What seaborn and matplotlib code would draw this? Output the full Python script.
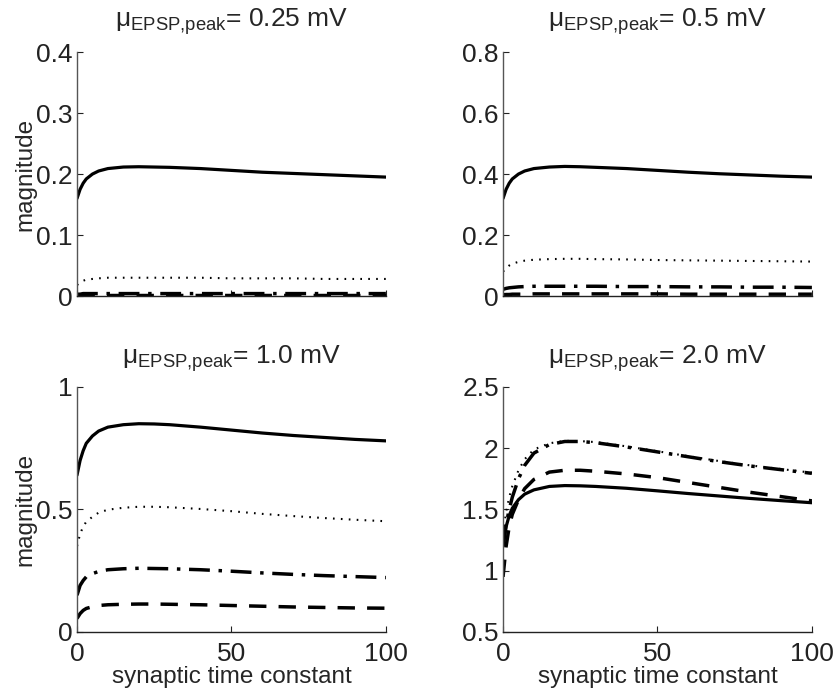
import numpy as np
import pandas as pd
import matplotlib
matplotlib.use("Agg")
import matplotlib.pyplot as plt
import seaborn as sns

sns.set_theme(style="white")
plt.rcParams["font.family"] = ["Liberation Sans", "DejaVu Sans"]
plt.rcParams["mathtext.fontset"] = "custom"
plt.rcParams["mathtext.rm"] = "Liberation Sans"
plt.rcParams["mathtext.it"] = "Liberation Sans"

# synaptic time constant samples
tau = [0, 1, 2, 3, 5, 7, 10, 15, 20, 25, 30, 40, 50, 60, 70, 80, 90, 100]

# mu_EPSP,peak = 0.25 mV
p025_solid = [0.160, 0.175, 0.185, 0.192, 0.200, 0.205, 0.209, 0.2115, 0.212, 0.2115,
              0.211, 0.209, 0.206, 0.203, 0.201, 0.199, 0.197, 0.195]
p025_dotted = [0.018, 0.022, 0.025, 0.027, 0.028, 0.029, 0.030, 0.030, 0.030, 0.030,
               0.030, 0.030, 0.029, 0.029, 0.029, 0.028, 0.028, 0.028]
p025_dashdot = [0.003, 0.003, 0.004, 0.004, 0.004, 0.004, 0.004, 0.004, 0.004, 0.004,
                0.004, 0.004, 0.004, 0.004, 0.004, 0.004, 0.004, 0.004]
p025_dashed = [0.001, 0.001, 0.001, 0.001, 0.001, 0.001, 0.001, 0.001, 0.001, 0.001,
               0.001, 0.001, 0.001, 0.001, 0.001, 0.001, 0.001, 0.001]

# mu_EPSP,peak = 0.5 mV
p05_solid = [0.320, 0.350, 0.370, 0.384, 0.400, 0.410, 0.418, 0.423, 0.425, 0.424,
             0.422, 0.418, 0.412, 0.406, 0.401, 0.397, 0.393, 0.390]
p05_dotted = [0.080, 0.092, 0.100, 0.106, 0.112, 0.116, 0.119, 0.121, 0.122, 0.122,
              0.121, 0.120, 0.118, 0.117, 0.116, 0.115, 0.114, 0.113]
p05_dashdot = [0.022, 0.025, 0.027, 0.028, 0.030, 0.031, 0.032, 0.032, 0.032, 0.032,
               0.032, 0.031, 0.031, 0.030, 0.030, 0.029, 0.029, 0.028]
p05_dashed = [0.004, 0.005, 0.005, 0.006, 0.006, 0.006, 0.007, 0.007, 0.007, 0.007,
              0.007, 0.007, 0.007, 0.006, 0.006, 0.006, 0.006, 0.006]

# mu_EPSP,peak = 1.0 mV
p10_solid = [0.640, 0.700, 0.740, 0.770, 0.800, 0.820, 0.836, 0.846, 0.850, 0.849,
             0.846, 0.836, 0.824, 0.812, 0.802, 0.794, 0.786, 0.780]
p10_dotted = [0.350, 0.400, 0.430, 0.450, 0.470, 0.487, 0.499, 0.507, 0.511, 0.511,
              0.509, 0.502, 0.493, 0.482, 0.473, 0.465, 0.458, 0.452]
p10_dashdot = [0.150, 0.190, 0.210, 0.225, 0.238, 0.247, 0.254, 0.258, 0.260, 0.259,
               0.258, 0.254, 0.248, 0.241, 0.235, 0.230, 0.226, 0.222]
p10_dashed = [0.055, 0.075, 0.088, 0.096, 0.103, 0.108, 0.111, 0.113, 0.114, 0.114,
              0.113, 0.111, 0.108, 0.105, 0.102, 0.100, 0.098, 0.097]

# mu_EPSP,peak = 2.0 mV
p20_solid = [1.200, 1.360, 1.450, 1.510, 1.580, 1.625, 1.660, 1.688, 1.695, 1.693,
             1.688, 1.673, 1.652, 1.630, 1.610, 1.590, 1.572, 1.555]
p20_dotted = [1.300, 1.480, 1.600, 1.690, 1.820, 1.910, 1.990, 2.040, 2.060, 2.058,
              2.050, 2.015, 1.975, 1.935, 1.895, 1.860, 1.830, 1.800]
p20_dashdot = [1.200, 1.380, 1.500, 1.600, 1.750, 1.860, 1.960, 2.030, 2.055, 2.055,
               2.045, 2.010, 1.970, 1.930, 1.890, 1.855, 1.825, 1.795]
p20_dashed = [0.950, 1.200, 1.360, 1.460, 1.580, 1.670, 1.745, 1.805, 1.820, 1.820,
              1.812, 1.790, 1.760, 1.720, 1.680, 1.640, 1.605, 1.570]

titles = ["0.25 mV", "0.5 mV", "1.0 mV", "2.0 mV"]
panels = [
    (p025_solid, p025_dotted, p025_dashdot, p025_dashed),
    (p05_solid, p05_dotted, p05_dashdot, p05_dashed),
    (p10_solid, p10_dotted, p10_dashdot, p10_dashed),
    (p20_solid, p20_dotted, p20_dashdot, p20_dashed),
]
ylims = [(0, 0.4), (0, 0.8), (0, 1.0), (0.5, 2.5)]
yticks = [[0, 0.1, 0.2, 0.3, 0.4], [0, 0.2, 0.4, 0.6, 0.8], [0, 0.5, 1], [0.5, 1, 1.5, 2, 2.5]]
yticklabels = [["0", "0.1", "0.2", "0.3", "0.4"], ["0", "0.2", "0.4", "0.6", "0.8"],
               ["0", "0.5", "1"], ["0.5", "1", "1.5", "2", "2.5"]]

styles = [
    dict(linestyle="-", linewidth=2.3),
    dict(linestyle=(0, (0.8, 3.0)), linewidth=1.5),
    dict(linestyle=(0, (6, 2.5, 1, 2.5)), linewidth=2.5),
    dict(linestyle=(0, (5, 3.5)), linewidth=2.5),
]

fig = plt.figure(figsize=(8.37, 6.99), dpi=100)
positions = [
    [0.092, 0.5765, 0.369, 0.349],
    [0.601, 0.5765, 0.369, 0.349],
    [0.092, 0.0959, 0.369, 0.3505],
    [0.601, 0.0959, 0.369, 0.3505],
]

for i, (pos, series) in enumerate(zip(positions, panels)):
    ax = fig.add_axes(pos)
    for vals, st in zip(series, styles):
        df = pd.DataFrame({"tau": tau, "mag": vals})
        sns.lineplot(data=df, x="tau", y="mag", ax=ax, color="black",
                     dash_capstyle="butt", **st)
    ax.set_xlim(0, 100)
    ax.set_ylim(*ylims[i])
    ax.set_yticks(yticks[i])
    ax.set_yticklabels(yticklabels[i])
    ax.set_xticks([0, 50, 100])
    if i >= 2:
        ax.set_xticklabels(["0", "50", "100"])
        ax.set_xlabel("synaptic time constant", fontsize=17.5, labelpad=0)
    else:
        ax.set_xticklabels([])
        ax.set_xlabel("")
    if i % 2 == 0:
        ax.set_ylabel("magnitude", fontsize=17.5, labelpad=0)
    else:
        ax.set_ylabel("")
    ax.set_title(r"$\mathrm{\mu}_{\mathrm{EPSP{,}peak}}$= " + titles[i], fontsize=19,
                 pad=18 if i < 2 else 17)
    for side in ["top", "right"]:
        ax.spines[side].set_visible(False)
    ax.spines["left"].set_color("#555555")
    ax.spines["bottom"].set_color("#222222")
    ax.spines["left"].set_linewidth(1.0)
    ax.spines["bottom"].set_linewidth(1.0)
    ax.tick_params(axis="both", direction="in", length=4, width=0.8, labelsize=19,
                   colors="#222222", left=True, bottom=True)
    ax.tick_params(axis="y", pad=3)
    ax.tick_params(axis="x", pad=7)
    ax.set_facecolor("white")

fig.savefig("out.png", dpi=100, facecolor="white")
